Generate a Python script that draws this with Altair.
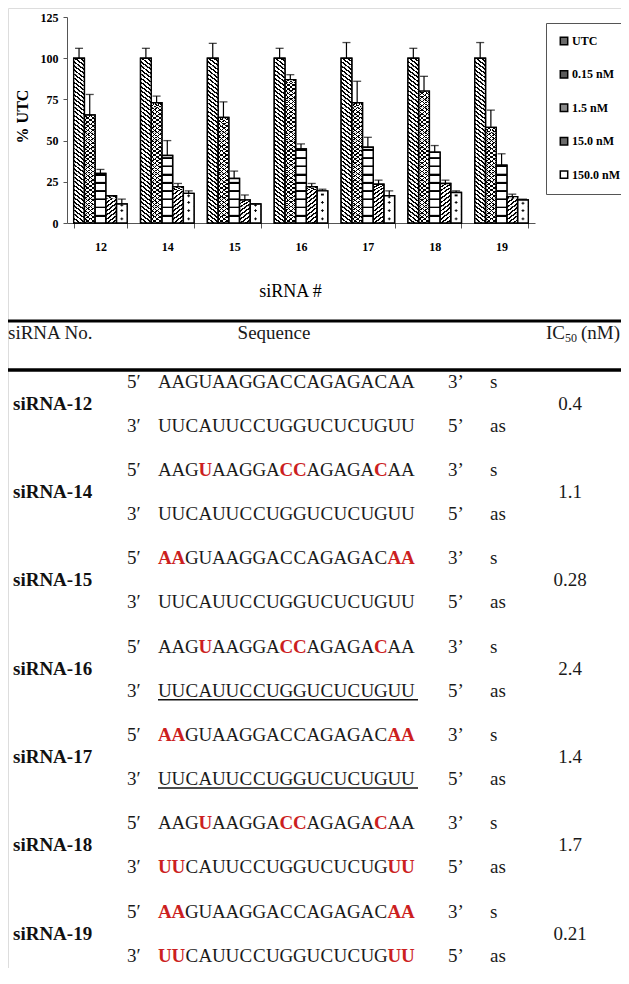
import math
import altair as alt
import pandas as pd

SERIF = "Liberation Serif, Times New Roman, serif"

# ---------------- bar chart data ----------------
sirna_ids = ["12", "14", "15", "16", "17", "18", "19"]
concs = ["UTC", "0.15 nM", "1.5 nM", "15.0 nM", "150.0 nM"]

utc_val = [100, 100, 100, 100, 100, 100, 100]
utc_err = [106, 106, 109, 106, 109.5, 106, 109.5]
c015_val = [65.5, 73, 64, 87, 73, 80, 58]
c015_err = [78, 77, 73.5, 90, 86, 89, 68.5]
c15_val = [30, 41, 27, 45, 46, 43, 35]
c15_err = [32.5, 50, 31.5, 48, 52, 47, 42]
c150_val = [16.5, 22, 14, 22, 23.5, 24, 16]
c150_err = [16.5, 24, 17, 24, 26, 26, 17.5]
c1500_val = [11.5, 18, 11.5, 19.5, 16.5, 18.5, 14]
c1500_err = [14.5, 19.5, 11.5, 20.5, 19.5, 19.5, 14.5]

series_vals = [utc_val, c015_val, c15_val, c150_val, c1500_val]
series_errs = [utc_err, c015_err, c15_err, c150_err, c1500_err]

# ---------------- table data ----------------
table_names = ["siRNA-12", "siRNA-14", "siRNA-15", "siRNA-16", "siRNA-17", "siRNA-18", "siRNA-19"]
ic50 = ["0.4", "1.1", "0.28", "2.4", "1.4", "1.7", "0.21"]
# lowercase letters = modified (red, bold)
sense_marked = [
    "AAGUAAGGACCAGAGACAA",
    "AAGuAAGGAccAGAGAcAA",
    "aaGUAAGGACCAGAGACaa",
    "AAGuAAGGAccAGAGAcAA",
    "aaGUAAGGACCAGAGACaa",
    "AAGuAAGGAccAGAGAcAA",
    "aaGUAAGGACCAGAGACaa",
]
antisense_marked = [
    "UUCAUUCCUGGUCUCUGUU",
    "UUCAUUCCUGGUCUCUGUU",
    "UUCAUUCCUGGUCUCUGUU",
    "UUCAUUCCUGGUCUCUGUU",
    "UUCAUUCCUGGUCUCUGUU",
    "uuCAUUCCUGGUCUCUGuu",
    "uuCAUUCCUGGUCUCUGuu",
]
underlined_as = [False, False, False, True, True, False, False]
left_ends = ["5\u2032", "3\u2032"]
right_ends = ["3\u2019", "5\u2019"]
strands = ["s", "as"]

# ---------------- build tables ----------------
bar_rows = []
for ci, c in enumerate(concs):
    for si, s in enumerate(sirna_ids):
        bar_rows.append({"sirna": s, "conc": c, "value": series_vals[ci][si], "err": series_errs[ci][si]})
bars_df = pd.DataFrame(bar_rows)

CELL = 5  # pattern tile height in data units
cell_rows = []
for r in bar_rows:
    n = math.ceil(r["value"] / CELL)
    for k in range(n):
        cell_rows.append({"sirna": r["sirna"], "conc": r["conc"],
                          "y0": k * CELL, "y1": min((k + 1) * CELL, r["value"])})
cells_df = pd.DataFrame(cell_rows)

char_rows, line_rows, name_rows, ul_rows = [], [], [], []
for r in range(len(table_names)):
    for line, marked in enumerate([sense_marked[r], antisense_marked[r]]):
        unit = 2 * r + line
        for i, ch in enumerate(marked):
            char_rows.append({"unit": unit, "i": i, "ch": ch.upper(), "red": ch.islower()})
        line_rows.append({"unit": unit, "left": left_ends[line], "right": right_ends[line], "strand": strands[line]})
    name_rows.append({"unit": 2 * r + 0.5, "name": table_names[r], "ic50": ic50[r]})
    if underlined_as[r]:
        ul_rows.append({"unit": 2 * r + 1})
chars_df = pd.DataFrame(char_rows)
lines_df = pd.DataFrame(line_rows)
names_df = pd.DataFrame(name_rows)
ul_df = pd.DataFrame(ul_rows)
dummy = pd.DataFrame({"a": [0]})

# ---------------- patterns ----------------
def stripes(x1, y1, x2, y2, n, frac, on="black", off="white"):
    stops = []
    for k in range(n):
        a, b, e = k / n, (k + frac) / n, (k + 1) / n
        stops += [{"offset": a, "color": on}, {"offset": b, "color": on},
                  {"offset": b, "color": off}, {"offset": e, "color": off}]
    return {"gradient": "linear", "x1": x1, "y1": y1, "x2": x2, "y2": y2, "stops": stops}

back_diag = stripes(0, 1, 1, 0, 4, 0.42)
fwd_diag = stripes(0, 0, 1, 1, 4, 0.42)
cross_a = stripes(0, 1, 1, 0, 4, 0.26)
cross_b = stripes(0, 0, 1, 1, 4, 0.26, off="rgba(0,0,0,0)")
bricks = {"gradient": "linear", "x1": 0, "y1": 0, "x2": 0, "y2": 1,
          "stops": [{"offset": 0, "color": "black"}, {"offset": 0.24, "color": "black"},
                    {"offset": 0.24, "color": "white"}, {"offset": 1, "color": "white"}]}
dots = {"gradient": "radial", "x1": 0.5, "y1": 0.5, "r1": 0, "x2": 0.5, "y2": 0.5, "r2": 0.5,
        "stops": [{"offset": 0, "color": "black"}, {"offset": 0.22, "color": "black"},
                  {"offset": 0.22, "color": "white"}, {"offset": 1, "color": "white"}]}

# ---------------- scales / axes ----------------
x_scale = alt.Scale(domain=sirna_ids, range=[59, 527], paddingInner=0.2, paddingOuter=0.1)
x_axis = alt.Axis(orient="bottom", offset=-745, title="siRNA #", titleX=282, titleY=68,
                  titleBaseline="middle", titleAlign="center", titleFont=SERIF, titleFontSize=18,
                  titleFontWeight="normal", titleColor="black", labelFont=SERIF, labelFontSize=12,
                  labelFontWeight="bold", labelColor="black", labelPadding=13, labelAngle=0,
                  tickBand="extent", tickSize=5, tickColor="#555", domainColor="#555", grid=False)
y_scale = alt.Scale(domain=[0, 125], range=[215, 9], nice=False)
y_axis = alt.Axis(orient="left", offset=-59, values=[0, 25, 50, 75, 100, 125], title="% UTC",
                  titleX=-45, titleY=108, titleAngle=270, titleBaseline="middle", titleAlign="center",
                  titleFont=SERIF, titleFontSize=16, titleFontWeight="bold", titleColor="black",
                  labelFont=SERIF, labelFontSize=12, labelFontWeight="bold", labelColor="black",
                  tickSize=4, labelPadding=5, tickColor="#555", domainColor="#555", grid=False)

def X():
    return alt.X("sirna:N", sort=sirna_ids, scale=x_scale, axis=x_axis)

def XO():
    return alt.XOffset("conc:N", sort=concs, scale=alt.Scale(domain=concs, paddingInner=0, paddingOuter=0))

def Y(field):
    return alt.Y(field, scale=y_scale, axis=y_axis)

legend = alt.Legend(title=None, orient="none", legendX=538, legendY=15, symbolType="square",
                    symbolSize=55, symbolStrokeColor="black", symbolStrokeWidth=1.5,
                    labelFont=SERIF, labelFontSize=12, labelFontWeight="bold", labelColor="black",
                    labelOffset=2, rowPadding=19.4, padding=12, strokeColor="#555", fillColor="white")

base = alt.Chart(bars_df).mark_bar(stroke="black", strokeWidth=1.4).encode(
    x=X(), xOffset=XO(), y=Y("value:Q"),
    fill=alt.Fill("conc:N", sort=concs,
                  scale=alt.Scale(domain=concs, range=["#6a6a6a", "#5a5a5a", "#8a8a8a", "#6a6a6a", "#ffffff"]),
                  legend=legend),
)

def cell_layer(conc, grad):
    return alt.Chart(cells_df).transform_filter(alt.datum.conc == conc).mark_bar(
        fill=grad, strokeWidth=0).encode(x=X(), xOffset=XO(), y=Y("y0:Q"), y2="y1:Q")

cells = [
    cell_layer("UTC", back_diag),
    cell_layer("0.15 nM", cross_a),
    cell_layer("0.15 nM", cross_b),
    cell_layer("1.5 nM", bricks),
    cell_layer("15.0 nM", fwd_diag),
    cell_layer("150.0 nM", dots),
]

outline = alt.Chart(bars_df).mark_bar(fillOpacity=0, stroke="black", strokeWidth=1.4).encode(
    x=X(), xOffset=XO(), y=Y("value:Q"))
err_rule = alt.Chart(bars_df).mark_rule(color="black", strokeWidth=1.2).encode(
    x=X(), xOffset=XO(), y=Y("value:Q"), y2="err:Q")
err_cap = alt.Chart(bars_df).mark_tick(color="black", size=8, thickness=1.3).encode(
    x=X(), xOffset=XO(), y=Y("err:Q"))

bar_group = alt.layer(base, *cells, outline, err_rule, err_cap)

# ---------------- table ----------------
ty = alt.Y("unit:Q", scale=alt.Scale(domain=[0, 13], range=[373.7, 947.7]), axis=None)
tx = alt.X("i:Q", scale=alt.Scale(domain=[0, 18], range=[156.75, 399.75]), axis=None)
FS = 19

seq_black = alt.Chart(chars_df).transform_filter(alt.datum.red == False).mark_text(
    font=SERIF, fontSize=FS, align="center", baseline="middle", color="#1a1a1a").encode(
    x=tx, y=ty, text="ch:N")
seq_red = alt.Chart(chars_df).transform_filter(alt.datum.red == True).mark_text(
    font=SERIF, fontSize=FS, fontWeight="bold", align="center", baseline="middle", color="#cc1f1f").encode(
    x=tx, y=ty, text="ch:N")

left_txt = alt.Chart(lines_df).mark_text(font=SERIF, fontSize=FS, align="left", baseline="middle",
                                         color="#1a1a1a").encode(x=alt.value(119), y=ty, text="left:N")
right_txt = alt.Chart(lines_df).mark_text(font=SERIF, fontSize=FS, align="left", baseline="middle",
                                          color="#1a1a1a").encode(x=alt.value(440), y=ty, text="right:N")
strand_txt = alt.Chart(lines_df).mark_text(font=SERIF, fontSize=FS, align="left", baseline="middle",
                                           color="#1a1a1a").encode(x=alt.value(482), y=ty, text="strand:N")
name_txt = alt.Chart(names_df).mark_text(font=SERIF, fontSize=FS, fontWeight="bold", align="left",
                                         baseline="middle", color="#111").encode(
    x=alt.value(5), y=ty, text="name:N")
ic_txt = alt.Chart(names_df).mark_text(font=SERIF, fontSize=FS, align="center", baseline="middle",
                                       color="#1a1a1a").encode(x=alt.value(562), y=ty, text="ic50:N")
underline = alt.Chart(ul_df).mark_rule(color="#111", strokeWidth=1.5, yOffset=9).encode(
    x=alt.value(150), x2=alt.value(410), y=ty)

def header(txt, x, align, size=FS, dy=0):
    return alt.Chart(dummy).mark_text(font=SERIF, fontSize=size, align=align, baseline="middle",
                                      color="#1a1a1a", dy=dy).encode(
        x=alt.value(x), y=alt.value(325), text=alt.value(txt))

headers = [
    header("siRNA No.", 0, "left"),
    header("Sequence", 266, "center"),
    header("IC", 557, "right"),
    header("50", 569, "right", size=12, dy=5),
    header("(nM)", 612, "right"),
]

top_line = alt.Chart(dummy).mark_rule(color="black", strokeWidth=3).encode(
    x=alt.value(0), x2=alt.value(613), y=alt.value(313))
mid_line = alt.Chart(dummy).mark_rule(color="black", strokeWidth=3.5).encode(
    x=alt.value(0), x2=alt.value(613), y=alt.value(362))

table_group = alt.layer(top_line, mid_line, *headers, seq_black, seq_red, underline,
                        left_txt, right_txt, strand_txt, name_txt, ic_txt)

chart = alt.layer(bar_group, table_group).resolve_scale(
    x="independent", y="independent"
).properties(
    width=613, height=960, autosize=alt.AutoSizeParams(type="none"), padding=0
).configure_view(strokeWidth=0).configure(font=SERIF)

chart.save("out.html", embed_options={"renderer": "svg", "actions": False})
